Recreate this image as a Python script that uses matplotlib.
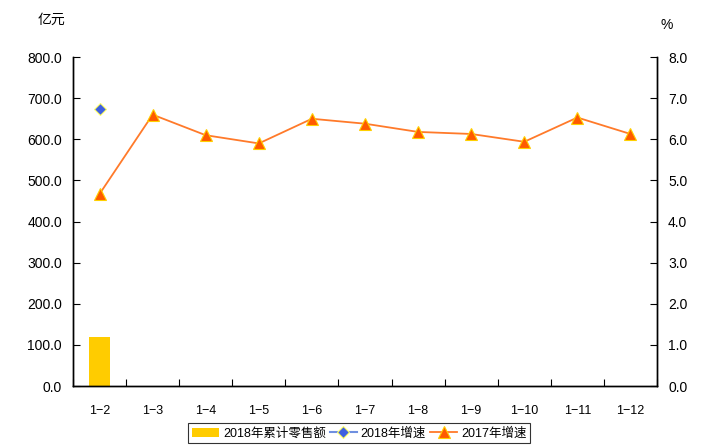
import matplotlib
matplotlib.use('Agg')
import matplotlib.pyplot as plt
import numpy as np

plt.rcParams['font.family'] = ['Liberation Sans', 'Noto Sans CJK SC', 'DejaVu Sans']

months = ['1-2', '1-3', '1-4', '1-5', '1-6', '1-7', '1-8', '1-9', '1-10', '1-11', '1-12']
sales_2018 = [119.0]
growth_2018 = [6.73]
growth_2017 = [4.67, 6.6, 6.1, 5.9, 6.5, 6.38, 6.18, 6.13, 5.94, 6.53, 6.13]

fig = plt.figure(figsize=(7.27, 4.46), dpi=100)
ax = fig.add_axes([0.1004, 0.1345, 0.8033, 0.7375])
ax2 = ax.twinx()

x = np.arange(len(months))
bars = ax.bar(x[:len(sales_2018)], sales_2018, width=0.38, color='#FFCC00', label='2018年累计零售额')
l18, = ax2.plot(x[:len(growth_2018)], growth_2018, color='#6F8FE0', marker='D', markersize=6,
                markerfacecolor='#3F5FE0', markeredgecolor='#FFFF66', markeredgewidth=0.8,
                label='2018年增速')
l17, = ax2.plot(x, growth_2017, color='#FF7A2A', lw=1.3, marker='^', markersize=8,
                markerfacecolor='#FF5A00', markeredgecolor='#FFD000', markeredgewidth=0.8,
                label='2017年增速')

ax.set_xlim(-0.5, len(months) - 0.5)
ax.set_ylim(0, 800)
ax2.set_ylim(0, 8)
ax.set_yticks(np.arange(0, 801, 100))
ax.set_yticklabels([f'{v:.1f}' for v in np.arange(0, 801, 100)], fontsize=10)
ax2.set_yticks(np.arange(0, 8.1, 1))
ax2.set_yticklabels([f'{v:.1f}' for v in np.arange(0, 8.1, 1)], fontsize=10)

# category boundaries get the tick marks, labels sit in the middle
ax.set_xticks(np.arange(-0.5, len(months), 1))
ax.set_xticklabels([])
ax.set_xticks(x, minor=True)
ax.set_xticklabels([m.replace('-', '\u2212') for m in months], minor=True, fontsize=9)
ax.tick_params(axis='x', which='minor', length=0, pad=14)
ax.tick_params(axis='x', which='major', direction='in', length=5)
ax.tick_params(axis='y', direction='in', length=5, pad=8)
ax2.tick_params(axis='y', direction='in', length=5, pad=8)

for a in (ax, ax2):
    a.spines['top'].set_visible(False)
    for s in ('left', 'right', 'bottom'):
        a.spines[s].set_linewidth(1.0)

fig.text(0.052, 0.955, '亿元', fontsize=10, ha='left', va='center', family=['Noto Sans CJK SC'])
fig.text(0.908, 0.944, '%', fontsize=10, ha='left', va='center')

leg = fig.legend(handles=[bars, l18, l17], loc='lower center', bbox_to_anchor=(0.494, -0.008), ncol=3,
                 frameon=True, fancybox=False, edgecolor='black',
                 handlelength=2.2, handletextpad=0.3, columnspacing=0.3, borderpad=0.3,
                 prop={'family': ['Liberation Sans', 'Noto Sans CJK SC'], 'size': 9})
leg.get_frame().set_linewidth(0.8)

fig.savefig('out.png', dpi=100)
